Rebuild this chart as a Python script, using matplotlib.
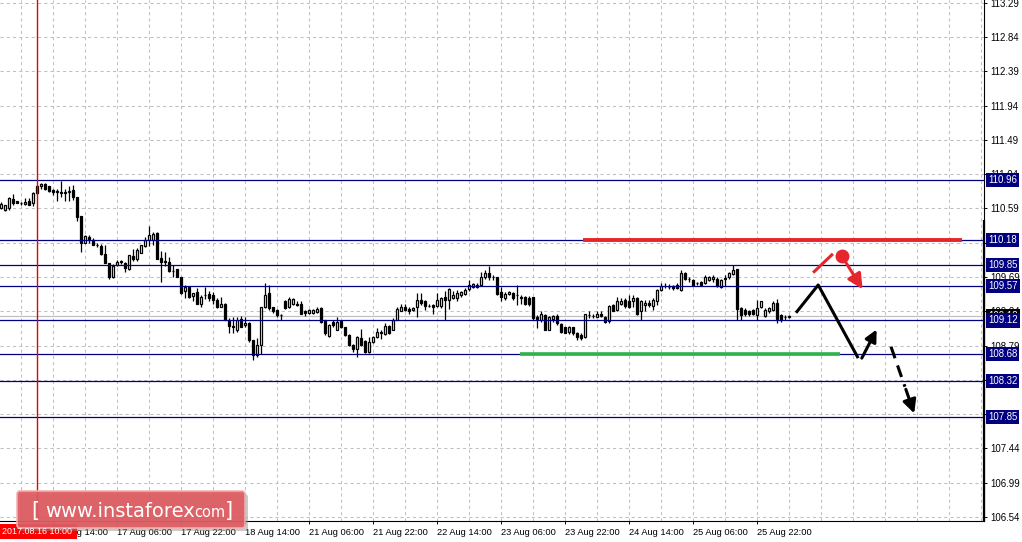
import numpy as np
import matplotlib.pyplot as plt
from matplotlib.patches import FancyBboxPatch, Rectangle

plt.rcParams['font.family'] = ['Liberation Sans', 'DejaVu Sans']

# H1 candles, one per bar, left to right
opens = [110.59, 110.57, 110.59, 110.71, 110.69, 110.66, 110.65, 110.69, 110.66, 110.88,
         110.88, 110.91, 110.88, 110.83, 110.81, 110.81, 110.81, 110.80, 110.83, 110.74,
         110.49, 110.14, 110.22, 110.18, 110.11, 110.10, 109.99, 109.87, 109.69, 109.85,
         109.89, 109.87, 109.80, 109.97, 109.92, 110.01, 110.10, 110.17, 110.17, 110.27,
         109.94, 109.90, 109.89, 109.77, 109.79, 109.69, 109.50, 109.56, 109.44, 109.49,
         109.33, 109.45, 109.47, 109.45, 109.39, 109.29, 109.34, 109.13, 109.05, 108.99,
         109.14, 109.06, 109.09, 108.86, 108.67, 108.80, 109.30, 109.48, 109.29, 109.26,
         109.19, 109.38, 109.29, 109.33, 109.34, 109.34, 109.25, 109.22, 109.22, 109.23,
         109.28, 109.12, 108.92, 109.10, 109.00, 109.11, 109.03, 108.93, 108.80, 108.74,
         108.89, 108.85, 108.70, 108.84, 108.90, 108.95, 108.94, 109.05, 108.99, 109.13,
         109.25, 109.30, 109.27, 109.26, 109.29, 109.39, 109.37, 109.31, 109.32, 109.31,
         109.31, 109.43, 109.39, 109.42, 109.42, 109.45, 109.47, 109.53, 109.56, 109.56,
         109.59, 109.69, 109.74, 109.69, 109.69, 109.49, 109.42, 109.47, 109.48, 109.45,
         109.43, 109.43, 109.42, 109.43, 109.17, 109.13, 109.19, 108.99, 109.14, 109.18,
         109.07, 109.03, 108.97, 109.03, 108.96, 108.93, 108.90, 109.19, 109.18, 109.17,
         109.20, 109.16, 109.11, 109.32, 109.26, 109.34, 109.39, 109.37, 109.37, 109.42,
         109.24, 109.32, 109.35, 109.31, 109.37, 109.52, 109.57, 109.56, 109.57, 109.59,
         109.52, 109.74, 109.66, 109.65, 109.61, 109.63, 109.61, 109.65, 109.66, 109.67,
         109.56, 109.67, 109.69, 109.73, 109.79, 109.28, 109.26, 109.24, 109.26, 109.19,
         109.29, 109.18, 109.24, 109.26, 109.35, 109.19, 109.16, 109.16]
highs = [110.67, 110.64, 110.74, 110.78, 110.69, 110.67, 110.72, 110.72, 110.80, 110.90,
         110.92, 110.92, 110.88, 110.84, 110.85, 110.95, 110.85, 110.88, 110.90, 110.74,
         110.49, 110.24, 110.24, 110.20, 110.13, 110.12, 110.11, 109.88, 109.86, 109.91,
         109.91, 109.89, 109.98, 110.06, 110.07, 110.11, 110.22, 110.36, 110.28, 110.28,
         110.03, 110.02, 109.95, 109.85, 109.80, 109.69, 109.58, 109.57, 109.48, 109.54,
         109.45, 109.56, 109.50, 109.49, 109.41, 109.43, 109.35, 109.15, 109.17, 109.17,
         109.18, 109.17, 109.10, 108.86, 108.89, 109.30, 109.61, 109.59, 109.30, 109.27,
         109.21, 109.39, 109.43, 109.42, 109.37, 109.37, 109.26, 109.27, 109.27, 109.30,
         109.29, 109.13, 109.07, 109.13, 109.17, 109.13, 109.04, 108.94, 108.81, 108.92,
         109.01, 108.86, 108.90, 108.92, 109.02, 108.99, 109.08, 109.06, 109.15, 109.30,
         109.34, 109.34, 109.29, 109.30, 109.48, 109.48, 109.39, 109.34, 109.34, 109.48,
         109.43, 109.50, 109.55, 109.50, 109.52, 109.50, 109.54, 109.65, 109.61, 109.61,
         109.76, 109.78, 109.83, 109.72, 109.69, 109.56, 109.49, 109.50, 109.49, 109.59,
         109.45, 109.44, 109.44, 109.43, 109.19, 109.24, 109.21, 109.18, 109.19, 109.21,
         109.08, 109.04, 109.05, 109.04, 108.97, 108.95, 109.21, 109.24, 109.21, 109.24,
         109.24, 109.18, 109.32, 109.34, 109.43, 109.42, 109.41, 109.45, 109.45, 109.43,
         109.39, 109.39, 109.39, 109.41, 109.53, 109.61, 109.61, 109.60, 109.59, 109.61,
         109.78, 109.76, 109.69, 109.66, 109.63, 109.64, 109.72, 109.70, 109.72, 109.69,
         109.67, 109.72, 109.76, 109.85, 109.80, 109.30, 109.28, 109.26, 109.27, 109.39,
         109.38, 109.28, 109.29, 109.37, 109.40, 109.21, 109.19, 109.19]
lows = [110.58, 110.56, 110.57, 110.64, 110.66, 110.63, 110.64, 110.63, 110.62, 110.78,
        110.85, 110.83, 110.81, 110.77, 110.69, 110.74, 110.69, 110.69, 110.70, 110.43,
        110.02, 110.13, 110.14, 110.11, 110.08, 109.98, 109.87, 109.67, 109.68, 109.83,
        109.86, 109.76, 109.78, 109.90, 109.90, 110.00, 110.08, 110.09, 110.11, 109.93,
        109.63, 109.83, 109.76, 109.69, 109.69, 109.47, 109.41, 109.42, 109.37, 109.34,
        109.30, 109.40, 109.38, 109.34, 109.28, 109.29, 109.13, 108.95, 108.96, 108.97,
        109.04, 109.04, 108.84, 108.60, 108.64, 108.68, 109.28, 109.26, 109.22, 109.17,
        109.13, 109.27, 109.28, 109.32, 109.31, 109.20, 109.18, 109.21, 109.21, 109.22,
        109.09, 108.93, 108.90, 109.04, 108.99, 109.02, 108.92, 108.79, 108.70, 108.64,
        108.78, 108.69, 108.69, 108.83, 108.89, 108.87, 108.93, 108.94, 108.99, 109.12,
        109.24, 109.24, 109.20, 109.24, 109.17, 109.32, 109.26, 109.29, 109.21, 109.29,
        109.28, 109.13, 109.27, 109.40, 109.37, 109.43, 109.45, 109.51, 109.54, 109.54,
        109.58, 109.67, 109.65, 109.65, 109.45, 109.37, 109.39, 109.45, 109.39, 109.32,
        109.34, 109.32, 109.31, 109.13, 109.02, 109.10, 108.99, 108.99, 109.10, 109.06,
        108.95, 108.95, 108.94, 108.93, 108.86, 108.86, 108.89, 109.15, 109.15, 109.16,
        109.17, 109.09, 109.09, 109.24, 109.25, 109.32, 109.28, 109.28, 109.30, 109.19,
        109.13, 109.24, 109.30, 109.26, 109.32, 109.50, 109.54, 109.53, 109.52, 109.53,
        109.51, 109.65, 109.63, 109.58, 109.59, 109.57, 109.60, 109.64, 109.63, 109.56,
        109.55, 109.57, 109.67, 109.72, 109.13, 109.13, 109.18, 109.18, 109.19, 109.13,
        109.28, 109.17, 109.22, 109.25, 109.08, 109.10, 109.12, 109.15]
closes = [110.65, 110.63, 110.72, 110.66, 110.66, 110.66, 110.68, 110.64, 110.79, 110.79,
          110.91, 110.85, 110.82, 110.80, 110.81, 110.79, 110.79, 110.82, 110.74, 110.48,
          110.14, 110.23, 110.17, 110.11, 110.11, 109.99, 109.88, 109.69, 109.84, 109.89,
          109.89, 109.81, 109.98, 109.92, 110.04, 110.11, 110.17, 110.24, 110.26, 109.93,
          109.89, 109.89, 109.77, 109.77, 109.69, 109.48, 109.56, 109.43, 109.48, 109.34,
          109.43, 109.45, 109.42, 109.39, 109.30, 109.34, 109.13, 109.05, 109.04, 109.13,
          109.04, 109.09, 108.86, 108.67, 108.80, 109.30, 109.45, 109.28, 109.24, 109.19,
          109.19, 109.28, 109.40, 109.40, 109.32, 109.21, 109.22, 109.26, 109.26, 109.27,
          109.10, 108.95, 109.06, 109.06, 109.10, 109.03, 108.93, 108.80, 108.74, 108.90,
          108.80, 108.70, 108.84, 108.90, 108.97, 108.97, 109.05, 108.95, 109.13, 109.27,
          109.30, 109.26, 109.25, 109.28, 109.39, 109.35, 109.31, 109.31, 109.30, 109.39,
          109.41, 109.39, 109.53, 109.45, 109.48, 109.49, 109.52, 109.59, 109.60, 109.59,
          109.69, 109.74, 109.69, 109.69, 109.47, 109.43, 109.47, 109.49, 109.42, 109.45,
          109.41, 109.34, 109.33, 109.15, 109.14, 109.20, 109.00, 109.17, 109.18, 109.08,
          108.97, 108.96, 109.03, 108.96, 108.90, 108.89, 109.20, 109.19, 109.18, 109.20,
          109.18, 109.10, 109.31, 109.25, 109.37, 109.38, 109.31, 109.30, 109.41, 109.20,
          109.37, 109.35, 109.32, 109.39, 109.52, 109.57, 109.57, 109.56, 109.54, 109.55,
          109.74, 109.66, 109.66, 109.59, 109.61, 109.59, 109.69, 109.69, 109.69, 109.57,
          109.65, 109.67, 109.74, 109.78, 109.27, 109.19, 109.20, 109.21, 109.21, 109.28,
          109.37, 109.26, 109.28, 109.35, 109.14, 109.13, 109.16, 109.18]

levels = [110.96, 110.18, 109.85, 109.57, 109.12, 108.68, 108.32, 107.85]
bid = 109.18
price_ticks = [113.29, 112.84, 112.39, 111.94, 111.49, 111.04, 110.59, 110.14,
               109.69, 109.24, 108.79, 108.34, 107.89, 107.44, 106.99, 106.54]
time_pos = [13, 29, 45, 61, 77, 93, 109, 125, 141, 157, 173, 189]
time_labels = ["16 Aug 14:00", "17 Aug 06:00", "17 Aug 22:00", "18 Aug 14:00",
               "21 Aug 06:00", "21 Aug 22:00", "22 Aug 14:00", "23 Aug 06:00",
               "23 Aug 22:00", "24 Aug 14:00", "25 Aug 06:00", "25 Aug 22:00"]
cursor_bar = 9
cursor_label = "2017.08.16 10:00"

# drawn forecast
resist = (110.18, 145.5, 240.25)
support = (108.68, 129.75, 209.75)
path_x = [198.75, 204.3, 214.3]
path_y = [109.22, 109.585, 108.625]
up_arrow = ((215.2, 108.625), (218.9, 109.0))
down_arrow = ((222.5, 108.775), (228.3, 107.90))
red_stroke = ([203.3, 207.7], [109.76, 109.98])
red_dot = (210.2, 109.965)
red_arrow = ((210.2, 109.965), (215.4, 109.53))

RED = '#e5262c'
NAVY = '#000080'
FS = 6.9

fig = plt.figure(figsize=(10.22, 5.42), dpi=100)
ax = fig.add_axes([0, 21 / 542, 984 / 1022, 521 / 542])
ax.set_xlim(-0.25, 245.75)
ax.set_ylim(106.4875, 113.325)

# grid
for gx in np.arange(5, 246, 8):
    ax.axvline(gx, color='#c0c0c0', lw=0.75, ls=(0, (3, 3)), zorder=0.5)
for gy in price_ticks:
    ax.axhline(gy, color='#c0c0c0', lw=0.75, ls=(0, (3, 3)), zorder=0.5)

# candles
o = np.array(opens)
h = np.array(highs)
l = np.array(lows)
c = np.array(closes)
idx = np.arange(len(o))
ax.vlines(idx, l, h, color='black', lw=0.9, zorder=2)
bottom = np.minimum(o, c)
height = np.maximum(np.abs(c - o), 0.004)
fill = np.where(c > o, 'white', 'black')
ax.bar(idx, height, bottom=bottom, width=0.55, color=fill, edgecolor='black',
       linewidth=0.9, zorder=3)

# levels
for lv in levels:
    ax.axhline(lv, color=NAVY, lw=0.9, zorder=4)
ax.axhline(bid, color='#c0c0c0', lw=0.9, zorder=1.5)
ax.axvline(cursor_bar, color='#e80000', lw=1.0, zorder=5)

ax.hlines(resist[0], resist[1], resist[2], color=RED, lw=2.8, zorder=6)
ax.hlines(support[0], support[1], support[2], color='#2db34c', lw=2.6, zorder=6)

# scenario
ax.plot(path_x, path_y, color='black', lw=2.2, solid_capstyle='butt', zorder=7)
ax.annotate('', xy=up_arrow[1], xytext=up_arrow[0],
            arrowprops=dict(arrowstyle='-|>,head_length=0.7,head_width=0.35',
                            color='black', lw=2.2, shrinkA=0, shrinkB=0), zorder=7)
(dx0, dy0), (dx1, dy1) = down_arrow
mx = dx0 + (dx1 - dx0) * 0.6
my = dy0 + (dy1 - dy0) * 0.6
ax.plot([dx0, mx], [dy0, my], color='black', lw=2.2, ls=(0, (4, 2.5)), zorder=7)
ax.annotate('', xy=(dx1, dy1), xytext=(mx, my),
            arrowprops=dict(arrowstyle='-|>,head_length=0.8,head_width=0.4',
                            color='black', lw=2.2, shrinkA=2, shrinkB=0), zorder=7)
ax.plot(red_stroke[0], red_stroke[1], color=RED, lw=2.2, zorder=7)
ax.annotate('', xy=red_arrow[1], xytext=red_arrow[0],
            arrowprops=dict(arrowstyle='-|>,head_length=0.9,head_width=0.45',
                            color=RED, lw=2.2, shrinkA=0, shrinkB=0), zorder=7)
ax.plot(*red_dot, 'o', color=RED, ms=9, zorder=8)

# axes decoration
for side in ['top', 'left']:
    ax.spines[side].set_visible(False)
ax.spines['right'].set_linewidth(0.8)
ax.spines['bottom'].set_linewidth(0.8)
ax.plot([1, 1], [0, 301 / 521], transform=ax.transAxes, color='black', lw=1.6,
        clip_on=False, zorder=9, solid_capstyle='butt')
ax.yaxis.tick_right()
ax.set_yticks(price_ticks)
ax.set_yticklabels([f'{t:.2f}' for t in price_ticks])
ax.tick_params(axis='y', direction='out', length=2.2, width=0.7, pad=2, labelsize=FS)
ax.set_xticks(time_pos)
ax.set_xticklabels(time_labels)
ax.tick_params(axis='x', direction='out', length=2.2, width=0.7, pad=2.5, labelsize=6.7)
for lab in ax.get_xticklabels():
    lab.set_ha('left')

ytr = ax.get_yaxis_transform()
ax.text(1.004, bid, f'{bid:.2f}', transform=ytr, ha='left', va='center', color='white',
        fontsize=FS, bbox=dict(boxstyle='square,pad=0.22', fc='black', ec='none'),
        clip_on=False, zorder=10)
for lv in levels:
    ax.text(1.004, lv, f'{lv:.2f}', transform=ytr, ha='left', va='center', color='white',
            fontsize=FS, bbox=dict(boxstyle='square,pad=0.22', fc=NAVY, ec='none'),
            clip_on=False, zorder=11)

# overlay in pixel space: cursor time label and watermark
ov = fig.add_axes([0, 0, 1, 1], zorder=10)
ov.set_xlim(0, 1022)
ov.set_ylim(542, 0)
ov.axis('off')
ov.patch.set_alpha(0)
ov.add_patch(Rectangle((0, 524), 77, 15, fc='#ff0000', ec='none'))
ov.text(2, 532, cursor_label, color='white', fontsize=6.4, va='center', ha='left')

ov.add_patch(FancyBboxPatch((20, 494), 228, 37, boxstyle='round,pad=0,rounding_size=3',
                            fc='#888888', ec='none', alpha=0.45))
ov.add_patch(FancyBboxPatch((17, 491), 228, 37, boxstyle='round,pad=0,rounding_size=3',
                            fc='#de5a60', ec='#f3b0b2', lw=1.2, alpha=0.92))
ov.text(31, 517, '[', color='white', fontsize=15, va='baseline', family='DejaVu Sans')
ov.text(45, 517, 'www.instaforex', color='white', fontsize=14, va='baseline',
        family='DejaVu Sans')
ov.text(194, 517, 'com', color='white', fontsize=10.5, va='baseline', family='DejaVu Sans')
ov.text(225, 517, ']', color='white', fontsize=15, va='baseline', family='DejaVu Sans')

fig.savefig('out.png', dpi=100, facecolor='white')
